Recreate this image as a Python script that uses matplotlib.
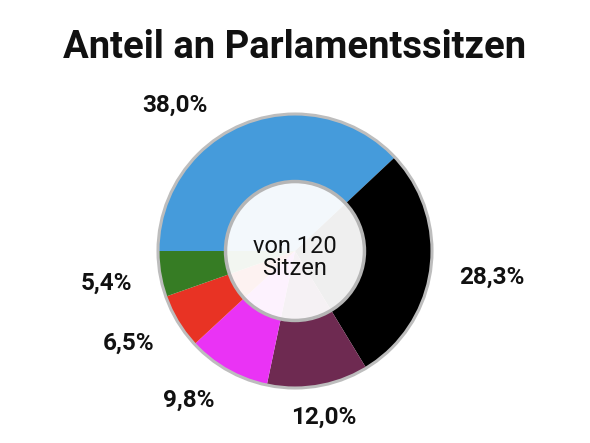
import numpy as np
import matplotlib.pyplot as plt
from matplotlib.patches import Circle

plt.rcParams['font.family'] = ['Roboto', 'DejaVu Sans']

title = 'Anteil an Parlamentssitzen'
center_text = 'von 120\nSitzen'
shares = [38.0, 28.3, 12.0, 9.8, 6.5, 5.4]
labels = ['38,0%', '28,3%', '12,0%', '9,8%', '6,5%', '5,4%']
colors = ['#459bdb', '#000000', '#6e2a51', '#ea33f5', '#e83324', '#367c24']

# label placement (angle shift in degrees, distance in radii)
label_shift = [18, 0, 0, -6, -2, 0]
label_dist = [1.38, 1.45, 1.23, 1.34, 1.39, 1.40]

W, H = 590, 443
R = 137.0
cx, cy = 295, 251

fig = plt.figure(figsize=(W / 100, H / 100), dpi=100)
ax = fig.add_axes([0, 0, 1, 1])
ax.axis('off')

wedges, _ = ax.pie(shares, colors=colors, startangle=180, counterclock=False,
                   radius=1, wedgeprops=dict(linewidth=0))
ax.add_patch(Circle((0, 0), 1.0, facecolor='none', edgecolor='#bdbdbd', lw=2.2, zorder=3))
ax.add_patch(Circle((0, 0), 0.507, facecolor='white', alpha=0.94, edgecolor='none', zorder=3))
ax.add_patch(Circle((0, 0), 0.507, facecolor='none', edgecolor='#b5b5b5', lw=2.5, zorder=4))

ax.set_xlim(-cx / R, (W - cx) / R)
ax.set_ylim(-(H - cy) / R, cy / R)
ax.set_aspect('equal')

for w, lab, sh, d in zip(wedges, labels, label_shift, label_dist):
    mid = np.deg2rad((w.theta1 + w.theta2) / 2 + sh)
    ax.text(d * np.cos(mid), d * np.sin(mid), lab, ha='center', va='center',
            fontsize=17.5, fontweight='bold', color='#111111')

ax.text(0, -0.05, center_text, ha='center', va='center', fontsize=17,
        color='#111111', linespacing=0.95)

fig.text(0.5, 1 - 47 / H, title, ha='center', va='center', fontsize=27.5,
         fontweight='bold', color='#111111')

fig.savefig('out.png', dpi=100)
